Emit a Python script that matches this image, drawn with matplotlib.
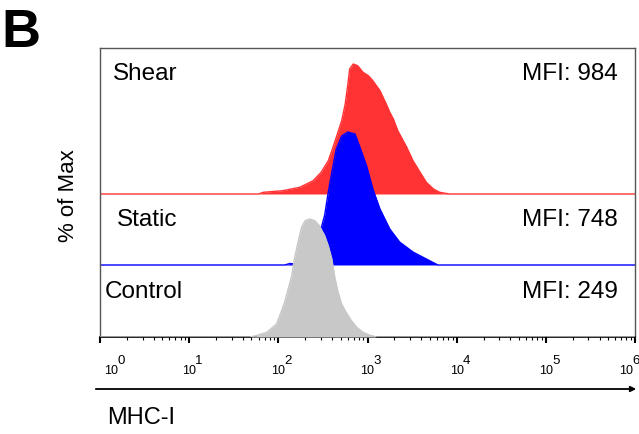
import numpy as np
import matplotlib
matplotlib.use("Agg")
import matplotlib.pyplot as plt
from matplotlib.patches import FancyArrowPatch

plt.rcParams['font.family'] = ['Liberation Sans', 'DejaVu Sans']

# samples: log10(intensity) and histogram height
shear_log = [1.78, 1.83, 2.05, 2.24, 2.39, 2.48, 2.56, 2.60, 2.65, 2.71, 2.75, 2.78, 2.80,
             2.84, 2.89, 2.95, 3.01, 3.06, 3.14, 3.21, 3.25, 3.29, 3.34, 3.44,
             3.51, 3.59, 3.66, 3.74, 3.81, 3.92]
shear_h = [0, 1.7, 3.3, 6.7, 13.3, 21.7, 33.3, 43.3, 56.7, 73.3, 90, 110, 125,
           130, 128.3, 121.7, 118.3, 113.3, 103.3, 90, 81.7, 75, 63.3, 46.7,
           33.3, 21.7, 11.7, 5, 1.7, 0]

static_log = [2.07, 2.13, 2.18, 2.29, 2.37, 2.44, 2.49, 2.52, 2.56, 2.60, 2.65, 2.71,
              2.78, 2.86, 2.91, 2.99, 3.06, 3.14, 3.25, 3.36, 3.51, 3.66, 3.79]
static_h = [0, 1.5, 1, 3, 10, 25, 40, 50, 73, 93, 116, 129,
            133, 131, 119, 99, 76, 56, 36, 23, 13, 6, 0]

control_log = [1.68, 1.75, 1.87, 1.98, 2.03, 2.07, 2.11, 2.15, 2.18, 2.22, 2.26, 2.30,
               2.35, 2.41, 2.46, 2.52, 2.56, 2.60, 2.63, 2.67, 2.71, 2.76, 2.82,
               2.88, 2.95, 3.02, 3.10]
control_h = [0, 1.3, 4.7, 13, 24.7, 34.7, 48, 61, 78, 94.7, 109.7, 116.3,
             118, 116.3, 111.3, 101.3, 91.3, 78, 61.3, 44.7, 33, 24.7, 16.3,
             9.7, 4.7, 2, 0]

names = ['Shear', 'Static', 'Control']
mfi = [984, 748, 249]
decades = [0, 1, 2, 3, 4, 5, 6]

fig = plt.figure(figsize=(6.39, 4.35), dpi=100)
ax = fig.add_axes([100 / 639, 1 - 338 / 435, 535 / 639, 289 / 435])

series = [(shear_log, shear_h, '#ff3333', 143, 1),
          (static_log, static_h, '#0000ff', 72, 2),
          (control_log, control_h, '#c8c8c8', 0, 3)]
for lg, h, col, base, z in series:
    x = np.concatenate([[1.0], 10 ** np.array(lg), [1e6]])
    y = np.concatenate([[0.0], np.array(h), [0.0]]) + base
    ax.fill_between(x, base, y, color=col, lw=0, zorder=z)
    ax.plot(x, y, color=col, lw=1.0, zorder=z)

ax.set_xscale('log')
ax.set_xlim(1, 1e6)
ax.set_ylim(0, 289)
ax.set_yticks([])
ax.xaxis.set_major_locator(matplotlib.ticker.LogLocator(base=10, numticks=10))
ax.xaxis.set_minor_locator(matplotlib.ticker.LogLocator(base=10, subs=np.arange(2, 10), numticks=100))
ax.xaxis.set_major_formatter(matplotlib.ticker.NullFormatter())
ax.xaxis.set_minor_formatter(matplotlib.ticker.NullFormatter())
ax.tick_params(axis='x', which='major', length=4.5, width=1.5, direction='out', color='black')
ax.tick_params(axis='x', which='minor', length=2.3, width=0.8, direction='out', color='black')
for s in ['left', 'top', 'right']:
    ax.spines[s].set_color('#555555')
    ax.spines[s].set_linewidth(1.0)
ax.spines['bottom'].set_color('black')
ax.spines['bottom'].set_linewidth(1.2)

# tick labels as "10" with a raised exponent
shift = {0: 11, 6: -9}
for d in decades:
    dx = shift.get(d, 0)
    ax.annotate('10', xy=(10.0 ** d, 0), xycoords=('data', 'axes fraction'),
                xytext=(dx * 0.72, -24), textcoords='offset points',
                ha='center', va='center', fontsize=9)
    ax.annotate(str(d), xy=(10.0 ** d, 0), xycoords=('data', 'axes fraction'),
                xytext=((dx + 10) * 0.72, -16.5), textcoords='offset points',
                ha='center', va='center', fontsize=9.5)

text_y = [258, 111.5, 39.5]
text_x = [13, 17, 5]
for name, m, ty, tx in zip(names, mfi, text_y, text_x):
    ax.text(tx / 535, ty, name, transform=ax.get_yaxis_transform(), fontsize=17.5,
            va='baseline', ha='left', zorder=5)
    ax.text(518 / 535, ty, 'MFI: %d' % m, transform=ax.get_yaxis_transform(), fontsize=17.5,
            va='baseline', ha='right', zorder=5)

fig.text(69 / 639, 1 - 196 / 435, '% of Max', rotation=90, fontsize=16,
         ha='center', va='center')
fig.text(107 / 639, 1 - 418 / 435, 'MHC-I', fontsize=17, ha='left', va='center')
fig.text(1 / 639, 1 - 47 / 435, 'B', fontsize=39, fontweight='bold', ha='left', va='baseline')

arrow = FancyArrowPatch((93 / 639, 1 - 390 / 435), (639 / 639, 1 - 390 / 435),
                        transform=fig.transFigure, arrowstyle='-|>', mutation_scale=8,
                        color='black', lw=1.3)
fig.add_artist(arrow)

fig.savefig('out.png', dpi=100)
